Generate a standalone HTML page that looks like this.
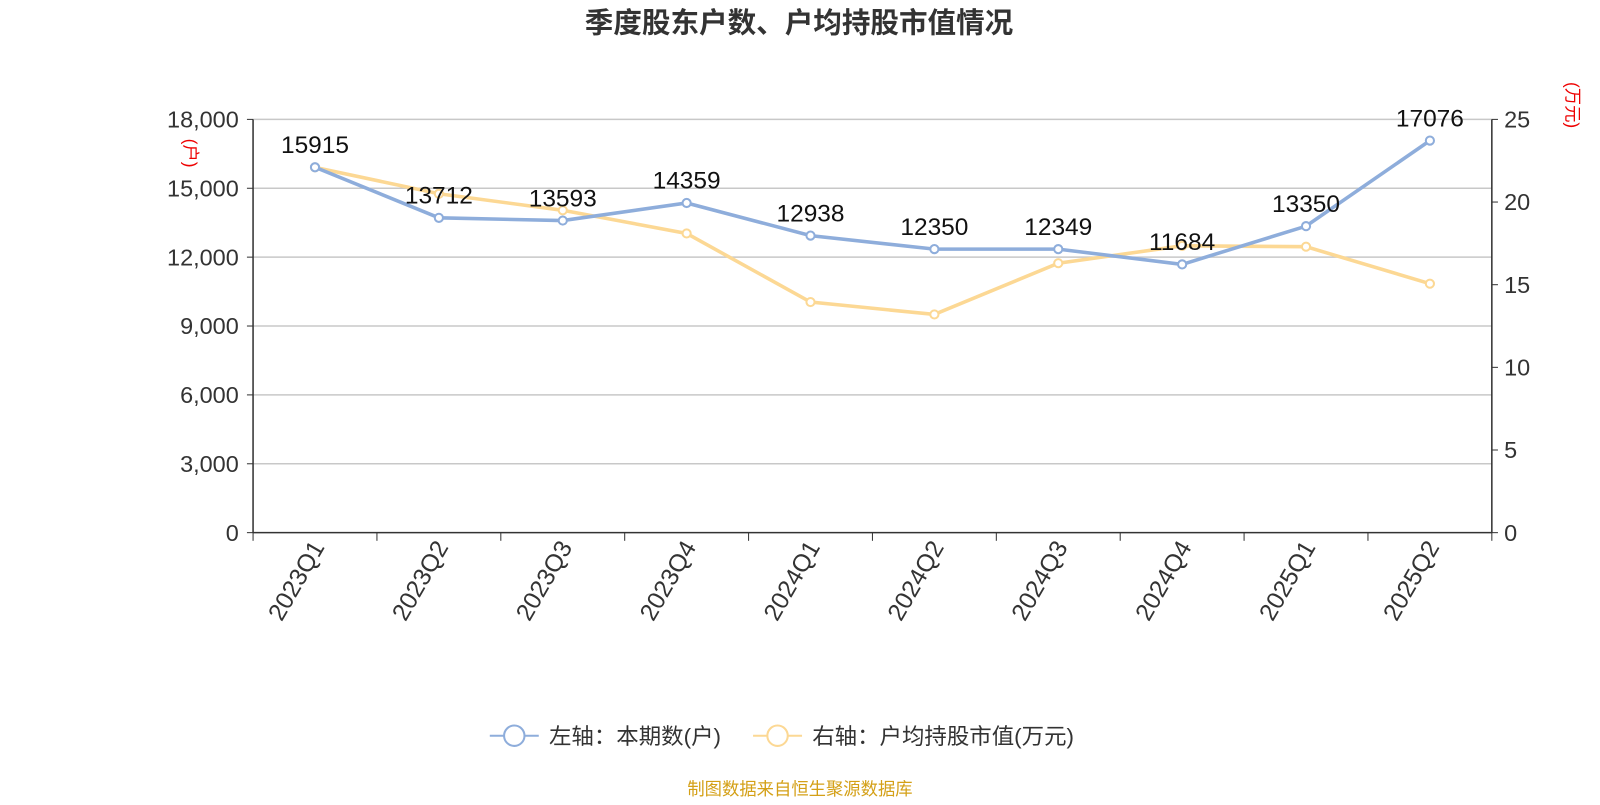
<!DOCTYPE html>
<html><head><meta charset="utf-8"><style>
body{margin:0;background:#fff;width:1600px;height:800px;overflow:hidden;font-family:"Liberation Sans","Noto Sans CJK SC",sans-serif;}
</style></head><body>
<svg id="chart" width="1600" height="800" viewBox="0 0 1568 784" xmlns="http://www.w3.org/2000/svg" font-family="'Liberation Sans','Noto Sans CJK SC',sans-serif">
<text x="783" y="32" text-anchor="middle" font-size="28" font-weight="bold" fill="#333">季度股东户数、户均持股市值情况</text>
<text transform="translate(181,150) rotate(90)" text-anchor="middle" font-size="17" fill="#e00">(户)</text>
<text transform="translate(1535,103) rotate(90)" text-anchor="middle" font-size="17" fill="#e00">(万元)</text>
<g id="grid"></g><g id="axes"></g><g id="series"></g>
<g>
<g>
<line x1="480" y1="721" x2="528" y2="721" stroke="#8eaddb" stroke-width="2"/><circle cx="504" cy="721" r="10" fill="#fff" stroke="#8eaddb" stroke-width="2"/>
<text x="538" y="729" font-size="22" fill="#333">左轴：本期数(户)</text></g>
<g>
<line x1="738" y1="721" x2="786" y2="721" stroke="#fcd894" stroke-width="2"/><circle cx="762" cy="721" r="10" fill="#fff" stroke="#fcd894" stroke-width="2"/>
<text x="796" y="729" font-size="22" fill="#333">右轴：户均持股市值(万元)</text></g>
</g>
<text x="784" y="779" text-anchor="middle" font-size="17" fill="#d4a017">制图数据来自恒生聚源数据库</text>
</svg>
<script>
const categories=["2023Q1","2023Q2","2023Q3","2023Q4","2024Q1","2024Q2","2024Q3","2024Q4","2025Q1","2025Q2"];
const households=[15915,13712,13593,14359,12938,12350,12349,11684,13350,17076];
const avgValue=[22.1,20.5,19.5,18.1,13.95,13.2,16.3,17.35,17.3,15.06];
const leftTicks=[0,3000,6000,9000,12000,15000,18000];
const rightTicks=[0,5,10,15,20,25];
const NS="http://www.w3.org/2000/svg";
const x0=248,x1=1462,yb=522,yt=117;
const bw=(x1-x0)/categories.length;
const xs=i=>x0+bw*(i+0.5);
const yL=v=>yb-(v/18000)*(yb-yt);
const yR=v=>yb-(v/25)*(yb-yt);
function mk(tag,attrs,parent,txt){const e=document.createElementNS(NS,tag);for(const k in attrs)e.setAttribute(k,attrs[k]);if(txt!==undefined)e.textContent=txt;document.getElementById(parent).appendChild(e);return e;}
leftTicks.forEach(t=>{
 if(t>0){const g=mk('line',{x1:x0,x2:x1,y1:yL(t),y2:yL(t),stroke:'#c8c8c8','stroke-width':1.5},'grid');
 
 }
 const l=mk('text',{x:x0-14,y:yL(t)+8,'text-anchor':'end','font-size':23,fill:'#333'},'axes',t.toLocaleString('en-US'));
 
 
 mk('line',{x1:x0-6,x2:x0,y1:yL(t),y2:yL(t),stroke:'#333'},'axes');
});
rightTicks.forEach(t=>{
 const l=mk('text',{x:x1+12,y:yR(t)+8,'font-size':23,fill:'#333'},'axes',t);
 
 
 mk('line',{x1:x1,x2:x1+6,y1:yR(t),y2:yR(t),stroke:'#333'},'axes');
});
mk('line',{x1:x0,x2:x0,y1:yt,y2:yb,stroke:'#333','stroke-width':1.5},'axes');
mk('line',{x1:x1,x2:x1,y1:yt,y2:yb,stroke:'#333','stroke-width':1.5},'axes');
mk('line',{x1:x0,x2:x1,y1:yb,y2:yb,stroke:'#333','stroke-width':1.5},'axes');
for(let i=0;i<=categories.length;i++)mk('line',{x1:x0+bw*i,x2:x0+bw*i,y1:yb,y2:yb+8,stroke:'#333'},'axes');
categories.forEach((c,i)=>{
 const t=mk('text',{transform:`translate(${xs(i)+10},${yb+14}) rotate(-60)`,'text-anchor':'end','font-size':24,fill:'#333'},'axes',c);
 
 
});
function series(vals,yf,color,name,labels){
 const p=mk('polyline',{points:vals.map((v,i)=>xs(i)+','+yf(v)).join(' '),fill:'none',stroke:color,'stroke-width':3.5},'series');
 
 
 vals.forEach((v,i)=>{
  const c=mk('circle',{cx:xs(i),cy:yf(v),r:4,fill:'#fff',stroke:color,'stroke-width':2},'series');
  
  
  if(labels){const t=mk('text',{x:xs(i),y:yf(v)-14,'text-anchor':'middle','font-size':24,fill:'#111'},'series',v);
  
  }
 });
}
series(avgValue,yR,'#fcd894','avg-value',false);
series(households,yL,'#8eaddb','households',true);
</script>
</body></html>
